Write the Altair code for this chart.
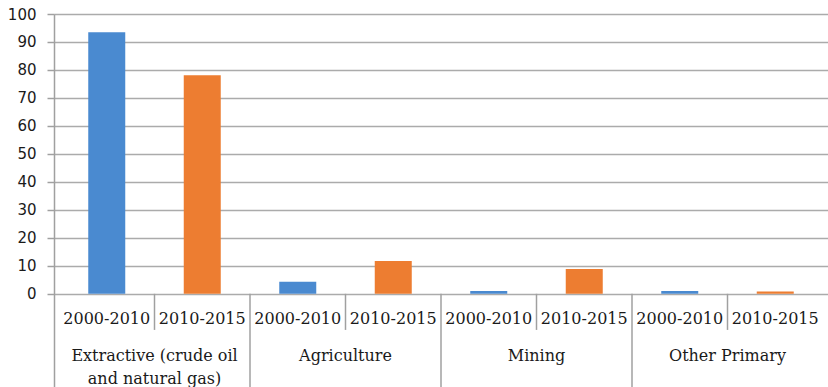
import altair as alt
import pandas as pd

# ---- data ----
categories = ["Extractive (crude oil\nand natural gas)", "Agriculture", "Mining", "Other Primary"]
periods = ["2000-2010", "2010-2015"]
values_2000_2010 = [93.5, 4.3, 1.0, 1.0]
values_2010_2015 = [78.1, 11.7, 8.9, 0.8]
y_ticks = list(range(0, 101, 10))

colors = ["#4A8AD0", "#ED7D31"]

# ---- build tables ----
bar_rows, period_rows, cat_rows, sep_rows = [], [], [], []
for i, cat in enumerate(categories):
    for j, (per, vals) in enumerate(zip(periods, [values_2000_2010, values_2010_2015])):
        slot = 2 * i + j
        bar_rows.append({"pos": slot + 0.5, "y": vals[i], "period": per})
        period_rows.append({"pos": slot + 0.5, "y": -10.7, "label": per})
    cat_rows.append({"pos": 2 * i + 1, "y": -24.0, "label": cat})
    sep_rows.append({"pos": 2 * i + 1, "y": 0, "y1": -12.9})
    if i > 0:
        sep_rows.append({"pos": 2 * i, "y": 0, "y1": -33.3})

bars_df = pd.DataFrame(bar_rows)
per_df = pd.DataFrame(period_rows)
cat_df = pd.DataFrame(cat_rows)
sep_df = pd.DataFrame(sep_rows)

xscale = alt.Scale(domain=[0, 8], nice=False, zero=False)
x_enc = alt.X("pos:Q", scale=xscale, axis=None)


def y_enc():
    return alt.Y(
        "y:Q",
        scale=alt.Scale(domain=[-33.3, 100], nice=False, zero=False),
        axis=alt.Axis(
            values=y_ticks,
            title="",
            grid=True,
            gridColor="#ABABAB",
            gridWidth=1.5,
            domainColor="#A0A0A0",
            domainWidth=1.5,
            tickColor="#A0A0A0",
            tickWidth=1.5,
            tickSize=7,
            labelPadding=11,
            labelFont="DejaVu Sans",
            labelFontSize=15,
            labelColor="#1a1a1a",
        ),
    )


bars = alt.Chart(bars_df).mark_bar(size=37).encode(
    x=x_enc,
    y=y_enc(),
    y2=alt.datum(0),
    color=alt.Color("period:N", scale=alt.Scale(domain=periods, range=colors), legend=None),
)

seps = alt.Chart(sep_df).mark_rule(color="#A0A0A0", strokeWidth=1.5).encode(
    x=x_enc,
    y=y_enc(),
    y2="y1:Q",
)

per_text = alt.Chart(per_df).mark_text(
    font="DejaVu Serif", fontSize=16, color="#1a1a1a", baseline="alphabetic", align="center"
).encode(x=x_enc, y=y_enc(), text="label:N")

cat_text = alt.Chart(cat_df).mark_text(
    font="DejaVu Serif", fontSize=16, color="#1a1a1a", baseline="alphabetic", align="center",
    lineBreak="\n", lineHeight=23,
).encode(x=x_enc, y=y_enc(), text="label:N")

chart = alt.layer(bars, seps, per_text, cat_text).properties(
    width=774,
    height=373,
    padding={"left": 54, "top": 14, "right": 0, "bottom": 0},
    autosize="none",
).configure_view(stroke=None).configure(background="white")

chart.save("out.html", embed_options={"renderer": "svg", "actions": False})
